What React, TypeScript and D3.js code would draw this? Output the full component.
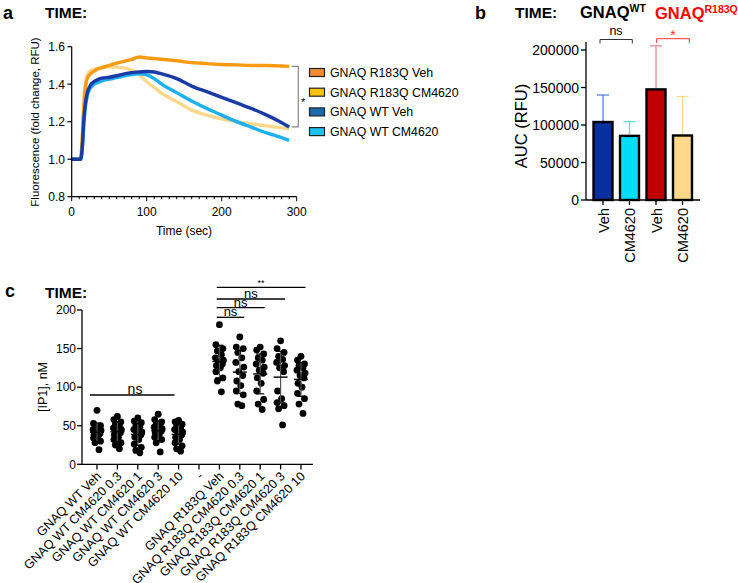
import React from "react";
import * as d3 from "d3";

// ---------- Panel a data ----------
const times = [0, 4, 8, 12, 14, 16, 18, 20, 22, 25, 30, 35, 40, 50, 60, 70, 80, 90, 100, 110, 120, 140, 160, 180, 200, 220, 240, 260, 280, 290];
const r183qVeh = [1.0, 1.0, 1.0, 1.01, 1.10, 1.26, 1.37, 1.42, 1.44, 1.455, 1.47, 1.482, 1.488, 1.50, 1.512, 1.522, 1.532, 1.545, 1.54, 1.537, 1.533, 1.525, 1.515, 1.51, 1.505, 1.503, 1.50, 1.50, 1.497, 1.495];
const r183qCM = [1.0, 1.0, 1.0, 1.01, 1.12, 1.30, 1.40, 1.44, 1.46, 1.47, 1.48, 1.485, 1.49, 1.493, 1.49, 1.487, 1.475, 1.45, 1.413, 1.383, 1.351, 1.307, 1.262, 1.235, 1.215, 1.20, 1.188, 1.178, 1.167, 1.162];
const wtVeh = [1.0, 1.0, 1.0, 1.0, 1.06, 1.20, 1.29, 1.34, 1.37, 1.395, 1.415, 1.425, 1.432, 1.437, 1.445, 1.455, 1.462, 1.465, 1.468, 1.465, 1.455, 1.43, 1.39, 1.36, 1.33, 1.30, 1.27, 1.235, 1.195, 1.172];
const wtCM = [1.0, 1.0, 1.0, 1.0, 1.05, 1.17, 1.27, 1.32, 1.355, 1.38, 1.40, 1.41, 1.418, 1.427, 1.435, 1.445, 1.452, 1.455, 1.45, 1.43, 1.40, 1.355, 1.31, 1.27, 1.235, 1.20, 1.17, 1.14, 1.115, 1.10];
const legendLabels = ["GNAQ R183Q Veh", "GNAQ R183Q CM4620", "GNAQ WT Veh", "GNAQ WT CM4620"];
const aYTicks = [0.8, 1.0, 1.2, 1.4, 1.6];
const aXTicks = [0, 100, 200, 300];

// ---------- Panel b data ----------
const bCats = ["WT Veh", "WT CM4620", "R183Q Veh", "R183Q CM4620"];
const bLabels = ["Veh", "CM4620", "Veh", "CM4620"];
const bMeans = [104000, 85500, 147500, 86000];
const bErrTop = [140000, 104500, 205500, 138000];
const bYTicks = [0, 50000, 100000, 150000, 200000];

// ---------- Panel c data ----------
const cLabels = [
  "GNAQ WT Veh", "GNAQ WT CM4620 0.3", "GNAQ WT CM4620 1", "GNAQ WT CM4620 3", "GNAQ WT CM4620 10",
  "-",
  "GNAQ R183Q Veh", "GNAQ R183Q CM4620 0.3", "GNAQ R183Q CM4620 1", "GNAQ R183Q CM4620 3", "GNAQ R183Q CM4620 10",
];
const cWtVeh = [70, 53, 50, 48, 46, 45, 44, 42, 40, 38, 36, 34, 30, 28, 19];
const cWt03 = [62, 58, 55, 52, 50, 47, 45, 43, 41, 38, 35, 32, 28, 25, 20];
const cWt1 = [60, 56, 54, 50, 48, 45, 42, 40, 38, 35, 32, 26, 22, 18, 15];
const cWt3 = [65, 58, 55, 52, 50, 48, 46, 45, 43, 41, 38, 35, 32, 28, 16];
const cWt10 = [57, 55, 52, 50, 47, 45, 42, 40, 38, 35, 32, 28, 24, 20, 17];
const cRVeh = [181, 155, 150, 147, 142, 138, 135, 133, 130, 128, 125, 120, 112, 108, 94];
const cR03 = [165, 152, 150, 145, 138, 132, 126, 120, 115, 108, 102, 95, 90, 78, 76];
const cR1 = [152, 148, 143, 138, 135, 130, 126, 122, 118, 112, 105, 95, 84, 78, 71];
const cR3 = [160, 150, 145, 140, 136, 132, 128, 125, 120, 95, 85, 80, 76, 72, 51];
const cR10 = [140, 135, 130, 128, 125, 122, 118, 115, 112, 105, 100, 92, 85, 78, 66];
const cYTicks = [0, 50, 100, 150, 200];

const FONT = "'Liberation Sans', Arial, Helvetica, sans-serif";

function PanelA() {
  const x = d3.scaleLinear().domain([0, 300]).range([71.7, 296.7]);
  const y = d3.scaleLinear().domain([0.8, 1.6]).range([196.7, 46.7]);
  const series = [
    { vals: r183qCM, color: "#FDD88C", legend: "#FFC20E" },
    { vals: r183qVeh, color: "#F99A12", legend: "#F58A33" },
    { vals: wtCM, color: "#1CB0F0", legend: "#1EC0F5" },
    { vals: wtVeh, color: "#1A3BA6", legend: "#1A6AAF" },
  ];
  const line = d3.line<number>().x((_, i) => x(times[i])).y((v) => y(v)).curve(d3.curveMonotoneX);
  const legendOrder = [1, 0, 3, 2];
  const minor = d3.range(0, 301, 10);
  return (
    <g fontFamily={FONT}>
      <text x={3} y={19} fontSize={18} fontWeight="bold">a</text>
      <text x={45} y={18} fontSize={15.5} fontWeight="bold">TIME:</text>
      {series.map((s, k) => (
        <path key={k} d={line(s.vals) || ""} fill="none" stroke={s.color} strokeWidth={3.4} strokeLinejoin="round" />
      ))}
      {/* axes */}
      <line x1={71.7} x2={71.7} y1={46.7} y2={196.7} stroke="#000" strokeWidth={1.2} />
      <line x1={71.7} x2={296.7} y1={196.7} y2={196.7} stroke="#000" strokeWidth={1.2} />
      {aYTicks.map((t) => (
        <g key={t}>
          <line x1={67.5} x2={71.7} y1={y(t)} y2={y(t)} stroke="#000" strokeWidth={1.2} />
          <text x={65} y={y(t) + 4.3} fontSize={12} textAnchor="end">{t.toFixed(1)}</text>
        </g>
      ))}
      {minor.map((t) => (
        <line key={t} x1={x(t)} x2={x(t)} y1={196.7} y2={196.7 + (t % 100 === 0 ? 4.5 : 2.5)} stroke="#000" strokeWidth={1} />
      ))}
      {aXTicks.map((t) => (
        <text key={t} x={x(t)} y={216} fontSize={12} textAnchor="middle">{t}</text>
      ))}
      <text x={184} y={235} fontSize={12} textAnchor="middle">Time (sec)</text>
      <text transform={`translate(39,122) rotate(-90)`} fontSize={11.5} textAnchor="middle">Fluorescence (fold change, RFU)</text>
      {/* bracket */}
      <path d={`M291.7,${y(1.495)} H298.3 V${y(1.172)} H291.7`} fill="none" stroke="#888" strokeWidth={1.2} />
      <text x={301} y={106} fontSize={11}>*</text>
      {/* legend */}
      {legendOrder.map((si, i) => (
        <g key={i}>
          <rect x={309.5} y={68.5 + i * 19.7} width={15} height={8} fill={series[si].legend} stroke="#222" strokeWidth={1.2} />
          <text x={330} y={77 + i * 19.7} fontSize={12.3}>{legendLabels[i]}</text>
        </g>
      ))}
    </g>
  );
}

function PanelB() {
  const x = d3.scalePoint<string>().domain(bCats).range([603, 682.5]);
  const y = d3.scaleLinear().domain([0, 200000]).range([200, 50]);
  const fills = ["#0A2F9E", "#00DDF7", "#C00000", "#FFD88A"];
  const errCol = ["#5C7FE0", "#5ADCF5", "#E88888", "#FFD88A"];
  const bw = 19;
  return (
    <g fontFamily={FONT}>
      <text x={475} y={19} fontSize={18} fontWeight="bold">b</text>
      <text x={515} y={18} fontSize={15.5} fontWeight="bold">TIME:</text>
      <text x={580} y={18} fontSize={16.5} fontWeight="bold">GNAQ<tspan fontSize={10.5} dy={-6}>WT</tspan></text>
      <text x={655} y={19} fontSize={16.5} fontWeight="bold" fill="#F00">GNAQ<tspan fontSize={10.5} dy={-6}>R183Q</tspan></text>
      {bCats.map((c, i) => (
        <g key={c}>
          <line x1={x(c)!} x2={x(c)!} y1={y(bErrTop[i])} y2={y(bMeans[i])} stroke={errCol[i]} strokeWidth={1.3} />
          <line x1={x(c)! - 6} x2={x(c)! + 6} y1={y(bErrTop[i])} y2={y(bErrTop[i])} stroke={errCol[i]} strokeWidth={1.3} />
          <rect x={x(c)! - bw / 2} y={y(bMeans[i])} width={bw} height={y(0) - y(bMeans[i])} fill={fills[i]} stroke="#000" strokeWidth={2.4} />
        </g>
      ))}
      <line x1={586} x2={586} y1={42} y2={200} stroke="#000" strokeWidth={1.3} />
      <line x1={586} x2={700} y1={200} y2={200} stroke="#000" strokeWidth={1.3} />
      {bYTicks.map((t) => (
        <g key={t}>
          <line x1={581} x2={586} y1={y(t)} y2={y(t)} stroke="#000" strokeWidth={1.3} />
          <text x={579} y={y(t) + 5} fontSize={14} textAnchor="end">{t}</text>
        </g>
      ))}
      {bCats.map((c, i) => (
        <g key={c + "l"}>
          <line x1={x(c)!} x2={x(c)!} y1={200} y2={205} stroke="#000" strokeWidth={1.3} />
          <text transform={`translate(${x(c)! + 5.5},208) rotate(-90)`} fontSize={14.5} textAnchor="end">{bLabels[i]}</text>
        </g>
      ))}
      <text transform="translate(527,126) rotate(-90)" fontSize={16.5} textAnchor="middle">AUC (RFU)</text>
      {/* significance */}
      <path d="M600,43.5 V39.5 H632.3 V43.5" fill="none" stroke="#333" strokeWidth={1} />
      <text x={616} y={35} fontSize={12.5} textAnchor="middle">ns</text>
      <path d="M656.7,43 V38.7 H689.3 V43" fill="none" stroke="#F33" strokeWidth={1} />
      <text x={673} y={40} fontSize={14} textAnchor="middle" fill="#F33">*</text>
    </g>
  );
}

function PanelC() {
  const x = d3.scalePoint<string>().domain(cLabels).range([97, 301]);
  const y = d3.scaleLinear().domain([0, 200]).range([464.3, 310]);
  const groups: (number[] | null)[] = [cWtVeh, cWt03, cWt1, cWt3, cWt10, null, cRVeh, cR03, cR1, cR3, cR10];
  const jit = [0, -3.5, 3.5, -2, 2, -4, 4, -1, 3, -3, 1, -3.5, 3.5, -2, 2];
  const sigR = [
    { end: cLabels[7], label: "ns", yy: 317.3 },
    { end: cLabels[8], label: "ns", yy: 307.7 },
    { end: cLabels[9], label: "ns", yy: 299 },
    { end: cLabels[10], label: "**", yy: 287.3 },
  ];
  return (
    <g fontFamily={FONT}>
      <text x={5} y={297} fontSize={18} fontWeight="bold">c</text>
      <text x={45} y={298} fontSize={15.5} fontWeight="bold">TIME:</text>
      {groups.map((g, gi) => {
        if (!g) return null;
        const cx = x(cLabels[gi])!;
        const m = d3.mean(g)!;
        const sd = d3.deviation(g)!;
        return (
          <g key={gi}>
            {g.map((v, i) => (
              <circle key={i} cx={cx + jit[i]} cy={y(v)} r={3.4} fill="#000" />
            ))}
            <line x1={cx} x2={cx} y1={y(m + sd)} y2={y(m - sd)} stroke="#555" strokeWidth={1.2} />
            <line x1={cx - 4} x2={cx + 4} y1={y(m + sd)} y2={y(m + sd)} stroke="#000" strokeWidth={1.2} />
            <line x1={cx - 4} x2={cx + 4} y1={y(m - sd)} y2={y(m - sd)} stroke="#000" strokeWidth={1.2} />
            <line x1={cx - 7} x2={cx + 7} y1={y(m)} y2={y(m)} stroke="#000" strokeWidth={1.4} />
          </g>
        );
      })}
      <line x1={82} x2={82} y1={310} y2={464.3} stroke="#000" strokeWidth={1.3} />
      <line x1={82} x2={313} y1={464.3} y2={464.3} stroke="#000" strokeWidth={1.3} />
      {cYTicks.map((t) => (
        <g key={t}>
          <line x1={77} x2={82} y1={y(t)} y2={y(t)} stroke="#000" strokeWidth={1.3} />
          <text x={76} y={y(t) + 4.3} fontSize={12} textAnchor="end">{t}</text>
        </g>
      ))}
      {cLabels.map((l) => (
        <g key={l}>
          <line x1={x(l)!} x2={x(l)!} y1={464.3} y2={469.5} stroke="#000" strokeWidth={1.3} />
          <text transform={`translate(${x(l)! + 5},477) rotate(-45)`} fontSize={12.6} textAnchor="end">{l}</text>
        </g>
      ))}
      <text transform="translate(47,387) rotate(-90)" fontSize={12.5} textAnchor="middle">[IP1], nM</text>
      {/* significance */}
      <line x1={90} x2={174.5} y1={395} y2={395} stroke="#000" strokeWidth={1.3} />
      <text x={135} y={394} fontSize={14} textAnchor="middle">ns</text>
      {sigR.map((s, i) => (
        <g key={i}>
          <line x1={216.7} x2={x(s.end)! + 4.5} y1={s.yy} y2={s.yy} stroke="#000" strokeWidth={1.3} />
          <text x={(216.7 + x(s.end)! + 4.5) / 2} y={s.yy - (s.label === "**" ? 1.5 : 1)} fontSize={s.label === "**" ? 9 : 13} textAnchor="middle">{s.label}</text>
        </g>
      ))}
    </g>
  );
}

export default function App() {
  return (
    <svg width={738} height={583} style={{ position: "absolute", left: 0, top: 0, background: "#fff" }}>
      <rect width={738} height={583} fill="#fff" />
      <PanelA />
      <PanelB />
      <PanelC />
    </svg>
  );
}
